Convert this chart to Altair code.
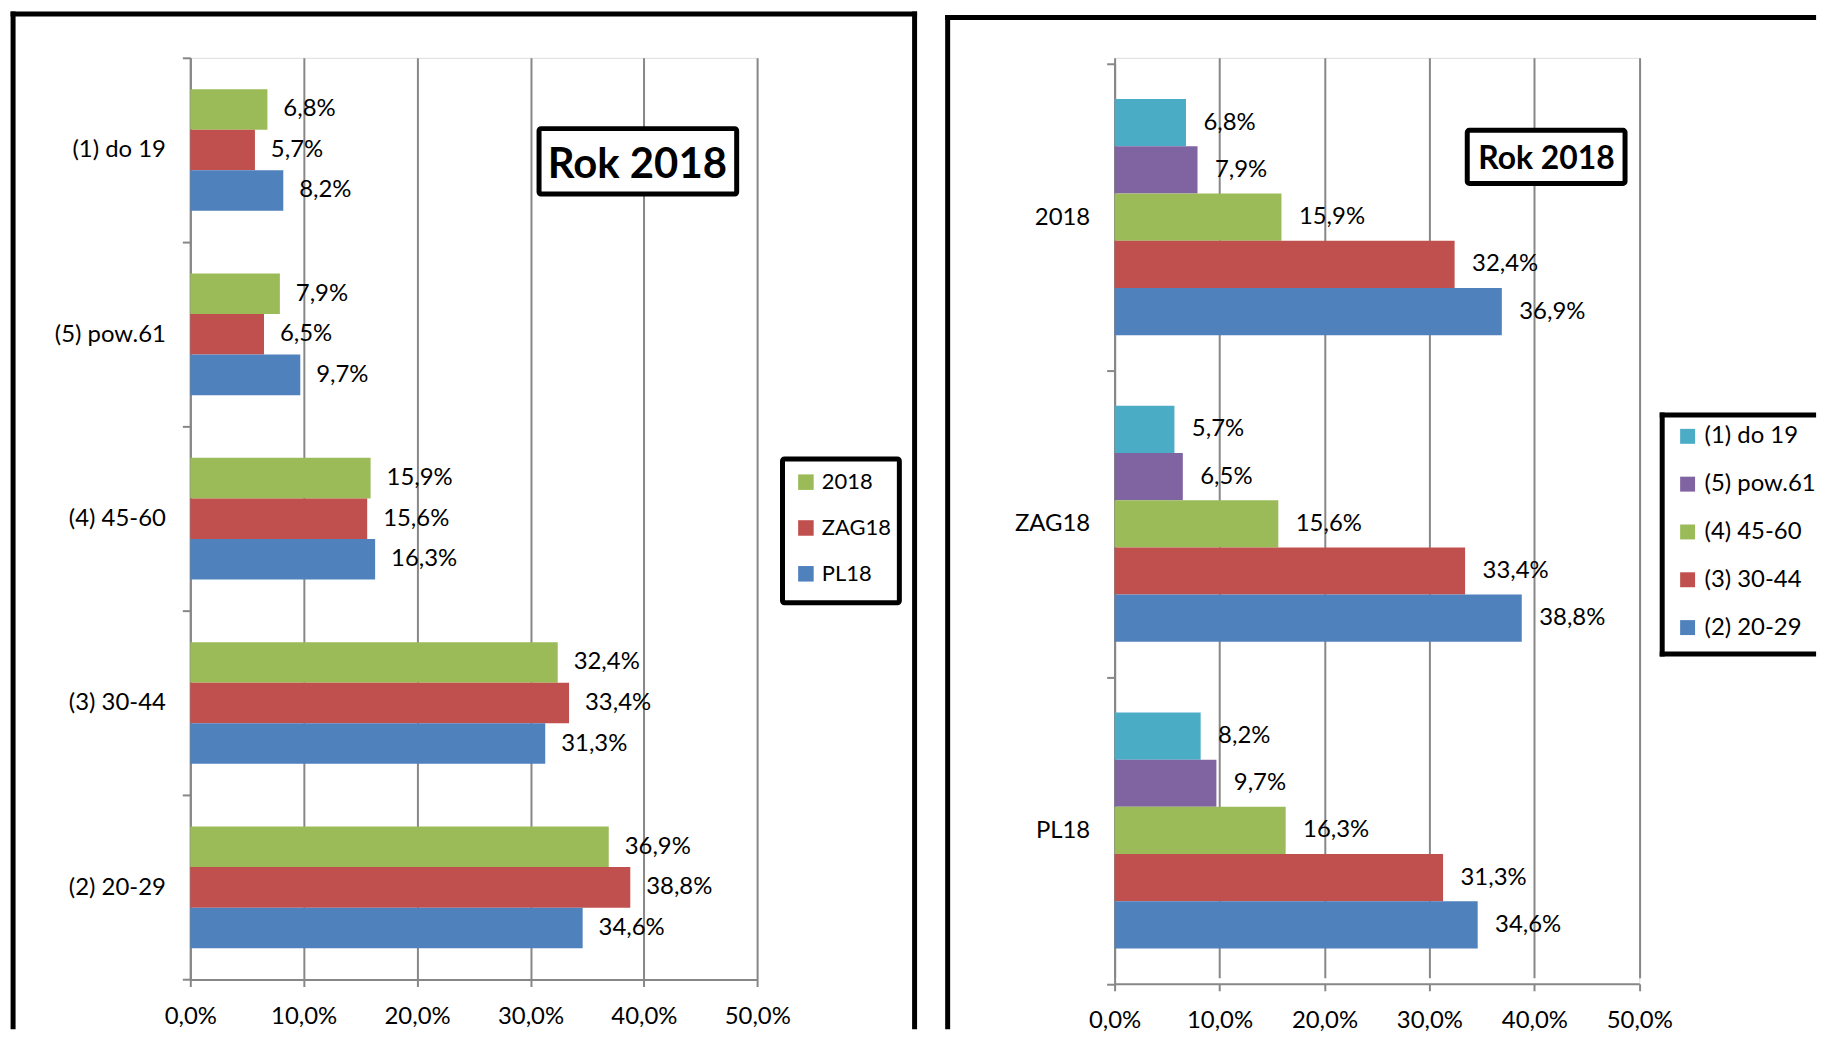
import altair as alt
import pandas as pd

# ---------------- data ----------------
CATEGORIES = ["(1) do 19", "(5) pow.61", "(4) 45-60", "(3) 30-44", "(2) 20-29"]
SERIES = ["2018", "ZAG18", "PL18"]
V_2018 = [6.8, 7.9, 15.9, 32.4, 36.9]
V_ZAG18 = [5.7, 6.5, 15.6, 33.4, 38.8]
V_PL18 = [8.2, 9.7, 16.3, 31.3, 34.6]
SERIES_COLORS = ["#9BBB59", "#C0504D", "#4F81BD"]
AGE_COLORS = ["#4BACC6", "#8064A2", "#9BBB59", "#C0504D", "#4F81BD"]
X_TICKS = [0, 10, 20, 30, 40, 50]
TITLE = "Rok 2018"

rows = []
for s, vals in zip(SERIES, [V_2018, V_ZAG18, V_PL18]):
    for c, v in zip(CATEGORIES, vals):
        rows.append({"series": s, "age": c, "value": v,
                     "label": f"{v:.1f}%".replace(".", ",")})
df = pd.DataFrame(rows)
ONE = pd.DataFrame({"k": [0]})

# ---------------- layout ----------------
FONT = "Lato"
FS = 24
GRAY = "#878787"
W_CANVAS, H_CANVAS = 1813, 1022
L_OX, L_OY = 181.7, 46.7          # left plot origin inside svg
L_W, L_H = 569.2, 925.3
R_W, R_H = 526.7, 929.6
SPACING = 357.9
R_OX = L_OX + L_W + SPACING
LABEL_EXPR = "replace(format(datum.value, '.1f'), '.', ',') + '%'"


def x_axis():
    return alt.Axis(values=X_TICKS, labelExpr=LABEL_EXPR, grid=True, gridColor=GRAY,
                    gridWidth=2, domainColor=GRAY, domainWidth=2, tickColor=GRAY,
                    tickWidth=2, tickSize=7, labelPadding=18, labelFont=FONT,
                    labelFontSize=FS, labelColor="black", labelFlush=False,
                    labelAngle=0, title=None)


def y_axis():
    return alt.Axis(tickBand="extent", tickSize=8, labelPadding=17, grid=False,
                    domainColor=GRAY, domainWidth=2, tickColor=GRAY, tickWidth=2,
                    labelFont=FONT, labelFontSize=FS, labelColor="black",
                    labelLimit=0, title=None)


def bar(x, x2, y, y2):
    # solid black strip used for frame borders
    return alt.Chart(ONE).mark_rect(fill="black", strokeWidth=0).encode(
        x=alt.value(x), x2=alt.value(x2), y=alt.value(y), y2=alt.value(y2))


def box(x, x2, y, y2):
    return alt.Chart(ONE).mark_rect(fill="white", stroke="black", strokeWidth=5,
                                    cornerRadius=2).encode(
        x=alt.value(x), x2=alt.value(x2), y=alt.value(y), y2=alt.value(y2))


def title_text(x, y, size):
    return alt.Chart(ONE).mark_text(text=TITLE, font=FONT, fontWeight="bold",
                                    fontSize=size, align="center",
                                    baseline="alphabetic", color="black").encode(
        x=alt.value(x), y=alt.value(y))


def legend(x, y, size, symbol):
    return alt.Legend(orient="none", legendX=x, legendY=y, title=None,
                      symbolType="square", symbolSize=symbol, symbolStrokeWidth=0,
                      labelFont=FONT, labelFontSize=size, labelColor="black",
                      labelOffset=5, rowPadding=24, padding=0)


# ---------------- left panel ----------------
xL = alt.X("value:Q", scale=alt.Scale(domain=[0, 50], nice=False), axis=x_axis())
yL = alt.Y("age:N", sort=CATEGORIES,
           scale=alt.Scale(domain=CATEGORIES, paddingInner=0, paddingOuter=0),
           axis=y_axis())
yoL = alt.YOffset("series:N", sort=SERIES,
                  scale=alt.Scale(domain=SERIES, paddingInner=0, paddingOuter=0.773))

canvas = alt.Chart(ONE).mark_rect(opacity=0).encode(
    x=alt.value(-L_OX), x2=alt.value(W_CANVAS - L_OX),
    y=alt.value(-L_OY), y2=alt.value(H_CANVAS - L_OY))

barsL = alt.Chart(df).mark_bar().encode(
    x=xL, y=yL, yOffset=yoL,
    color=alt.Color("series:N", scale=alt.Scale(domain=SERIES, range=SERIES_COLORS),
                    legend=legend(607, 415, 22, 243)))
textL = alt.Chart(df).mark_text(align="left", baseline="middle", dx=16, font=FONT,
                                fontSize=FS, color="black").encode(
    x=xL, y=yL, yOffset=yoL, text="label:N")

bottom = H_CANVAS - L_OY
left = alt.layer(
    canvas,
    barsL, textL,
    box(594.5, 711.8, 402.8, 547.1),
    box(350.1, 548.5, 71.1, 136.8),
    title_text(448.8, 120.3, 42),
    bar(-180.4, -175.4, -46.4, bottom),
    bar(-180.4, 729.6, -46.4, -41.4),
    bar(724.6, 729.6, -46.4, bottom),
).properties(width=L_W, height=L_H)

# ---------------- right panel ----------------
xR = alt.X("value:Q", scale=alt.Scale(domain=[0, 50], nice=False), axis=x_axis())
yR = alt.Y("series:N", sort=SERIES,
           scale=alt.Scale(domain=SERIES, range=[6, R_H], paddingInner=0,
                           paddingOuter=0),
           axis=y_axis())
yoR = alt.YOffset("age:N", sort=CATEGORIES,
                  scale=alt.Scale(domain=CATEGORIES, paddingInner=0, paddingOuter=0.748))

barsR = alt.Chart(df).mark_bar().encode(
    x=xR, y=yR, yOffset=yoR,
    color=alt.Color("age:N", scale=alt.Scale(domain=CATEGORIES, range=AGE_COLORS),
                    legend=legend(563.2, 368, FS, 225)))
textR = alt.Chart(df).mark_text(align="left", baseline="middle", dx=17.5, font=FONT,
                                fontSize=FS, color="black").encode(
    x=xR, y=yR, yOffset=yoR, text="label:N")

rightX = W_CANVAS - R_OX
right = alt.layer(
    barsR, textR,
    box(354.0, 512.4, 72.8, 126.1),
    title_text(433.6, 112.0, 32),
    bar(547.2, rightX, 356.0, 361.0),
    bar(547.2, 552.2, 356.0, 601.0),
    bar(547.2, rightX, 596.0, 601.0),
    bar(-170.1, -165.1, -43.0, bottom),
    bar(-170.1, rightX, -43.0, -38.0),
).properties(width=R_W, height=R_H)

chart = alt.hconcat(left, right, spacing=SPACING).resolve_scale(
    color="independent", x="independent", y="independent", yOffset="independent"
).properties(
    bounds="flush", padding=0, autosize=alt.AutoSizeParams(type="pad")
).configure_view(stroke=None).configure(font=FONT, background="white")

chart.save("out.html", embed_options={"renderer": "svg", "actions": False})
